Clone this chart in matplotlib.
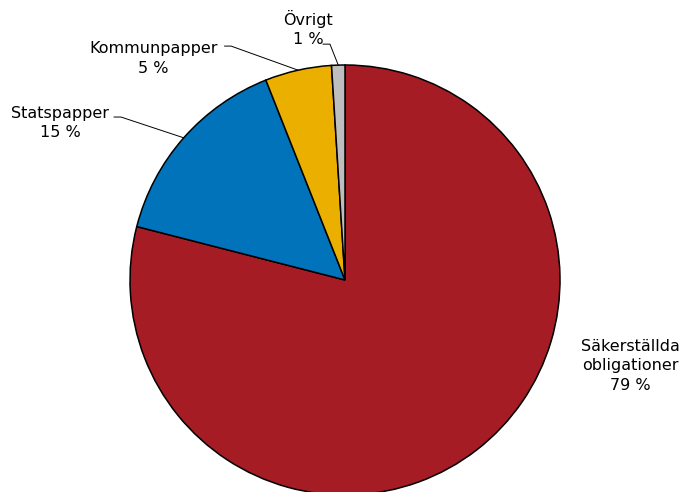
import numpy as np
import matplotlib.pyplot as plt

# andelar i procent
labels = ['Säkerställda\nobligationer', 'Statspapper', 'Kommunpapper', 'Övrigt']
values = [79, 15, 5, 1]
colors = ['#A51C24', '#0073BA', '#EBAF00', '#BEBEBE']

fig = plt.figure(figsize=(6.96, 4.92), dpi=100)
# pie centre at ~(345, 280) px, radius ~215 px
ax = fig.add_axes([0.1868, -0.0061, 0.6178, 0.874])

wedges, _ = ax.pie(values, colors=colors, startangle=90, counterclock=False,
                   radius=1.0, wedgeprops=dict(edgecolor='black', linewidth=1.1))
ax.set_xlim(-1, 1)
ax.set_ylim(-1, 1)
ax.set_aspect('equal')
ax.axis('off')

fs = 11.5
txt_pos = [(1.326, -0.40), (-1.325, 0.73), (-0.89, 1.03), (-0.172, 1.17)]
# leader lines: (text end, elbow) for the small slices
leaders = {1: [(-1.074, 0.758), (-1.042, 0.758)],
           2: [(-0.56, 1.088), (-0.53, 1.088)],
           3: [(-0.102, 1.097), (-0.07, 1.097)]}

for i, w in enumerate(wedges):
    lab = labels[i] + '\n' + str(values[i]) + ' %'
    x, y = txt_pos[i]
    ax.text(x, y, lab, ha='center', va='center', fontsize=fs, linespacing=1.4,
            clip_on=False)
    if i in leaders:
        ang = np.deg2rad((w.theta1 + w.theta2) / 2)
        ex, ey = np.cos(ang), np.sin(ang)
        pts = leaders[i] + [(ex, ey)]
        ax.plot([p[0] for p in pts], [p[1] for p in pts], color='black',
                lw=0.7, clip_on=False)

fig.savefig('out.png', dpi=100)
